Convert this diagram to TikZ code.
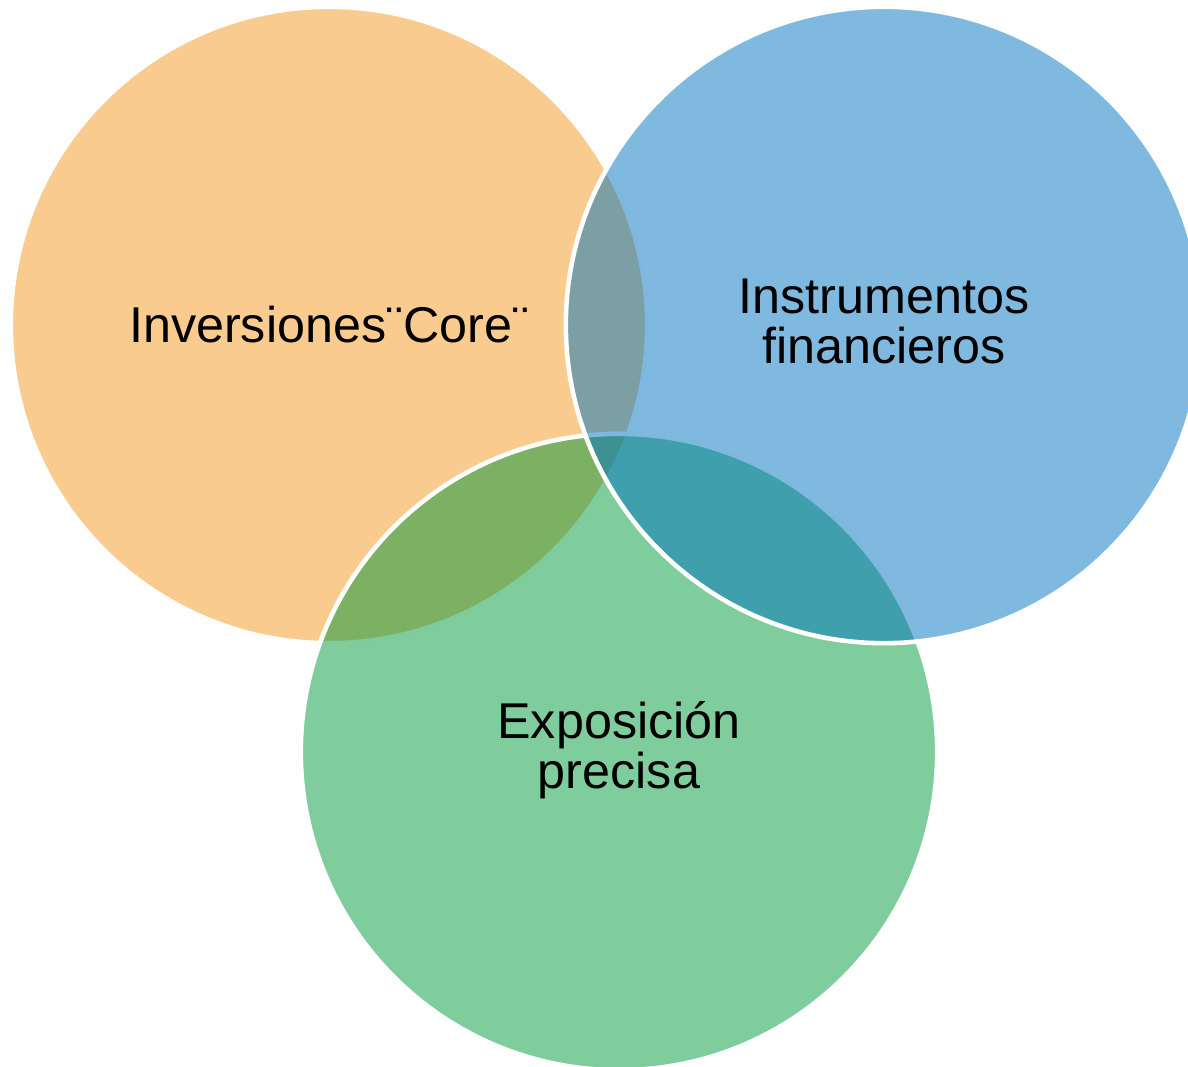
\documentclass[tikz,border=0pt]{standalone}
\usepackage{fontspec}
\setmainfont{Liberation Sans}
\definecolor{vennOrange}{RGB}{243,151,31}
\definecolor{vennGreen}{RGB}{0,153,57}
\definecolor{vennBlue}{RGB}{0,115,191}

\begin{document}
\begin{tikzpicture}[x=0.01cm,y=0.01cm,
  venn/.style={circle,draw=white,line width=1.3pt,fill=#1,fill opacity=0.5,draw opacity=1,text opacity=1,minimum size=6.36cm,inner sep=0pt},
  lbl/.style={align=center,inner sep=0pt,text=black,font=\fontsize{14.3}{14.1}\selectfont}]
\useasboundingbox (0,0) rectangle (1188,1066);
\clip (0,0) rectangle (1188,1066);
% circles, back to front
\node[venn=vennOrange] (core) at (329,741) {};
\node[venn=vennGreen] (expo) at (619,314) {};
\node[venn=vennBlue] (instr) at (884,741) {};
% labels
\node[lbl] (coreTxt) at (core) {Inversiones¨Core¨};
\node[lbl] (instrTxt) at ([yshift=1pt]instr) {Instrumentos\\financieros};
\node[lbl] (expoTxt) at ([yshift=0.5pt]expo) {Exposición\\precisa};
\end{tikzpicture}
\end{document}
